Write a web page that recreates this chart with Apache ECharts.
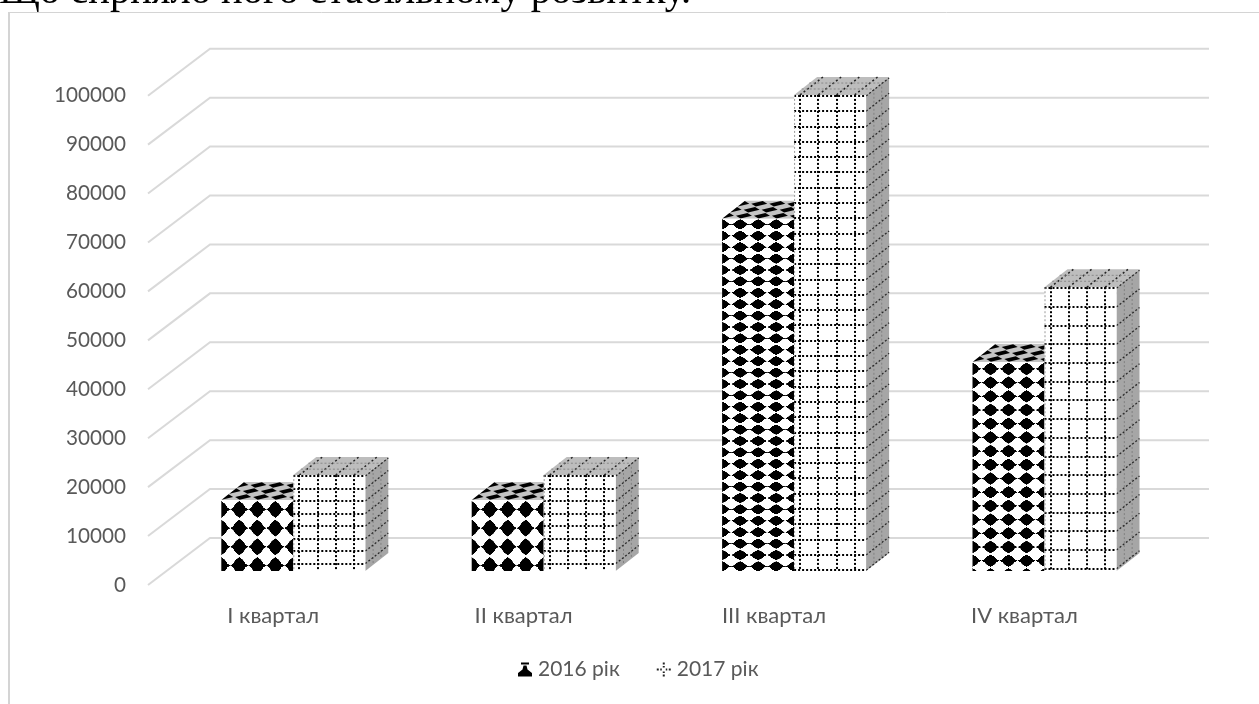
<!DOCTYPE html>
<html>
<head>
<meta charset="utf-8">
<style>html,body{margin:0;padding:0;background:#fff}#chart{width:1259px;height:704px}</style>
<script src="https://cdn.jsdelivr.net/npm/echarts@6/dist/echarts.min.js"></script>
</head>
<body>
<div id="chart"></div>
<script>
// Quarterly values
const categories = ['I квартал', 'II квартал', 'III квартал', 'IV квартал'];
const values2016 = [14500, 14500, 72000, 42700];
const values2017 = [19600, 19600, 97300, 58000];
const yTicks = [0, 10000, 20000, 30000, 40000, 50000, 60000, 70000, 80000, 90000, 100000];

// Texture row height of each bar, per quarter
const rowStep2016 = [18.7, 18.7, 11.4, 13.7];
const rowStep2017 = [12.5, 12.5, 15.3, 18.7];

const TEXT = '#595959';
const LABEL_FONT = 'Lato';
const WALL = { dx: 62, dy: -47 };      // floor depth of the 3D box
const BAR = { dx: 23, dy: -18, shiftX: 20.1, shiftY: -14, ratio: 0.2875 };
const COL_STEP = 18.2;

function makeTile(draw) {
  const c = document.createElement('canvas');
  c.width = c.height = 80;
  const g = c.getContext('2d');
  g.fillStyle = '#fff';
  g.fillRect(0, 0, 80, 80);
  draw(g);
  return c;
}
// Rounded black blob with short side points
const diamondTile = makeTile(g => {
  g.fillStyle = '#000';
  g.beginPath();
  g.moveTo(40, 4);
  g.bezierCurveTo(46, 8, 50, 12, 54, 14);
  g.bezierCurveTo(60, 20, 64, 26, 67, 32);
  g.lineTo(80, 40);
  g.lineTo(67, 48);
  g.bezierCurveTo(64, 54, 60, 60, 54, 66);
  g.bezierCurveTo(50, 68, 46, 72, 40, 76);
  g.bezierCurveTo(34, 72, 30, 68, 26, 66);
  g.bezierCurveTo(20, 60, 16, 54, 13, 48);
  g.lineTo(0, 40);
  g.lineTo(13, 32);
  g.bezierCurveTo(16, 26, 20, 20, 26, 14);
  g.bezierCurveTo(30, 12, 34, 8, 40, 4);
  g.fill();
});

function poly(points, style) {
  return { type: 'polygon', shape: { points }, style, silent: true };
}
function line(a, b, stroke, width, dash) {
  return {
    type: 'line',
    shape: { x1: a[0], y1: a[1], x2: b[0], y2: b[1] },
    style: { stroke, lineWidth: width, lineDash: dash, fill: null },
    silent: true
  };
}

function barGeometry(params, api, side) {
  const i = api.value(0);
  const top = api.coord([i, api.value(1)]);
  const zero = api.coord([i, 0]);
  const w = api.size([1, 0])[0] * BAR.ratio;
  const mid = top[0] + BAR.shiftX;
  const left = side === 0 ? mid - w : mid;
  return { i, left, right: left + w, w, top: top[1] + BAR.shiftY, bottom: zero[1] + BAR.shiftY };
}

function render2016(params, api) {
  const b = barGeometry(params, api, 0);
  const step = b.w / 4;
  const children = [];
  const topAt = (u, v) => [u + v * BAR.dx, b.top + v * BAR.dy];
  children.push(poly([topAt(b.left, 0), topAt(b.right, 0), topAt(b.right, 1), topAt(b.left, 1)], { fill: '#c4c4c4' }));
  for (let r = 0; r < 3; r++) {
    const v = (r + 0.5) / 3;
    for (let k = 0; k <= 4; k++) {
      const u = b.left + k * step;
      const lo = Math.max(b.left, u - 8), hi = Math.min(b.right, u + 8);
      children.push(poly([topAt(lo, v), topAt(u, v - 0.15), topAt(hi, v), topAt(u, v + 0.15)], { fill: '#000' }));
    }
  }
  children.push({
    type: 'rect', silent: true,
    shape: { x: b.left, y: b.top, width: b.w, height: b.bottom - b.top },
    style: {
      fill: {
        image: diamondTile, repeat: 'repeat',
        x: b.left - step / 2, y: b.top,
        scaleX: step / 80, scaleY: rowStep2016[b.i] / 80
      }
    }
  });
  return { type: 'group', children };
}

function render2017(params, api) {
  const b = barGeometry(params, api, 1);
  const rowStep = rowStep2017[b.i];
  const originX = b.left + 6;
  const children = [];
  const topAt = (u, v) => [u + v * BAR.dx, b.top + v * BAR.dy];
  const sideAt = (y, v) => [b.right + v * BAR.dx, y + v * BAR.dy];

  // top face
  children.push(poly([topAt(b.left, 0), topAt(b.right, 0), topAt(b.right, 1), topAt(b.left, 1)], { fill: '#bdbdbd' }));
  for (let x = originX; x < b.right; x += COL_STEP) {
    children.push(line(topAt(x, 0), topAt(x, 1), '#222', 1.5, [2, 2.5]));
  }
  [0.33, 0.66].forEach(v => children.push(line(topAt(b.left, v), topAt(b.right, v), '#8a8a8a', 1, [2, 2])));

  // side face
  children.push(poly([sideAt(b.bottom, 0), sideAt(b.bottom, 1), sideAt(b.top, 1), sideAt(b.top, 0)], { fill: '#a6a6a6' }));
  [0.34, 0.68].forEach(v => children.push(line(sideAt(b.top, v), sideAt(b.bottom, v), '#808080', 1, [2, 2])));
  for (let y = b.top + 1; y < b.bottom; y += rowStep) {
    children.push(line(sideAt(y, 0), sideAt(y, 1), '#2a2a2a', 1.3, [2, 2]));
  }

  // front face with a dotted grid
  children.push({
    type: 'rect', silent: true,
    shape: { x: b.left, y: b.top, width: b.w, height: b.bottom - b.top },
    style: { fill: '#fff' }
  });
  for (let x = originX; x < b.right; x += COL_STEP) {
    const px = Math.round(x);
    children.push(line([px, b.top], [px, b.bottom], '#000', 2, [2, 2]));
  }
  for (let y = b.top + 1; y < b.bottom; y += rowStep) {
    const py = Math.round(y);
    children.push(line([b.left, py], [b.right, py], '#000', 2, [2, 2]));
  }
  children.push(line([b.left + 0.5, b.top], [b.left + 0.5, b.bottom], '#9a9a9a', 1, [2, 2]));
  return { type: 'group', children };
}

// Wall and floor lines of the box, one per axis tick
function renderWall(params, api) {
  const cs = params.coordSys;
  const y = api.coord([0, api.value(1)])[1];
  const x0 = cs.x, xb = cs.x + WALL.dx, xe = 1209, yb = y + WALL.dy;
  return {
    type: 'polyline', silent: true,
    shape: { points: [[x0, y], [xb, yb], [xe, yb]] },
    style: { stroke: '#d9d9d9', lineWidth: 2, fill: null }
  };
}

const chart = echarts.init(document.getElementById('chart'), null, { renderer: 'canvas' });
chart.setOption({
  animation: false,
  backgroundColor: '#fff',
  grid: { left: 148, top: 95.7, width: 1001.6, height: 489.3 },
  xAxis: {
    type: 'category',
    data: categories,
    axisLine: { show: false },
    axisTick: { show: false },
    splitLine: { show: false },
    axisLabel: { color: TEXT, fontFamily: LABEL_FONT, fontSize: 22, margin: 20 }
  },
  yAxis: {
    type: 'value',
    min: 0,
    max: 100000,
    interval: 10000,
    axisLine: { show: false },
    axisTick: { show: false },
    splitLine: { show: false },
    axisLabel: { color: TEXT, fontFamily: LABEL_FONT, fontSize: 20.7, margin: 22, padding: [2, 0, 0, 0], formatter: v => String(v) }
  },
  legend: {
    left: 518,
    top: 659,
    padding: 0,
    itemWidth: 14,
    itemHeight: 14,
    itemGap: 37,
    textStyle: { color: TEXT, fontFamily: LABEL_FONT, fontSize: 21, padding: [0, 0, 0, 1] },
    data: [
      { name: '2016 рік', icon: 'path://M3 0H11V2H3ZM5.5 3H8.5L9.5 7L14 10.5V14H0V10.5L4.5 7Z' },
      { name: '2017 рік', icon: 'path://M6 0H8V2H6ZM6 3.5H8V5H6ZM6 9H8V10.5H6ZM6 12H8V14H6ZM0 6H2V8H0ZM3.5 6H5V8H3.5ZM9 6H10.5V8H9ZM12 6H14V8H12Z' }
    ]
  },
  graphic: [
    {
      type: 'text', silent: true, z: 10,
      style: {
        x: -1, y: -28,
        text: 'Що сприяло його стабільному розвитку.',
        fill: '#000',
        font: '40.5px "Liberation Serif"'
      }
    },
    { type: 'line', silent: true, shape: { x1: 9, y1: 12.5, x2: 1259, y2: 12.5 }, style: { stroke: '#d4d4d4', lineWidth: 1 } },
    { type: 'line', silent: true, shape: { x1: 9, y1: 12, x2: 9, y2: 704 }, style: { stroke: '#d4d4d4', lineWidth: 2 } }
  ],
  series: [
    {
      type: 'custom',
      coordinateSystem: 'cartesian2d',
      data: yTicks.map(v => [0, v]),
      encode: { x: 0, y: 1 },
      renderItem: renderWall,
      clip: false,
      silent: true,
      z: 1
    },
    {
      name: '2016 рік',
      type: 'custom',
      coordinateSystem: 'cartesian2d',
      data: values2016.map((v, i) => [i, v]),
      encode: { x: 0, y: 1 },
      itemStyle: { color: '#000' },
      renderItem: render2016,
      clip: false,
      z: 2
    },
    {
      name: '2017 рік',
      type: 'custom',
      coordinateSystem: 'cartesian2d',
      data: values2017.map((v, i) => [i, v]),
      encode: { x: 0, y: 1 },
      itemStyle: { color: '#222' },
      renderItem: render2017,
      clip: false,
      z: 3
    }
  ]
});
</script>
</body>
</html>
